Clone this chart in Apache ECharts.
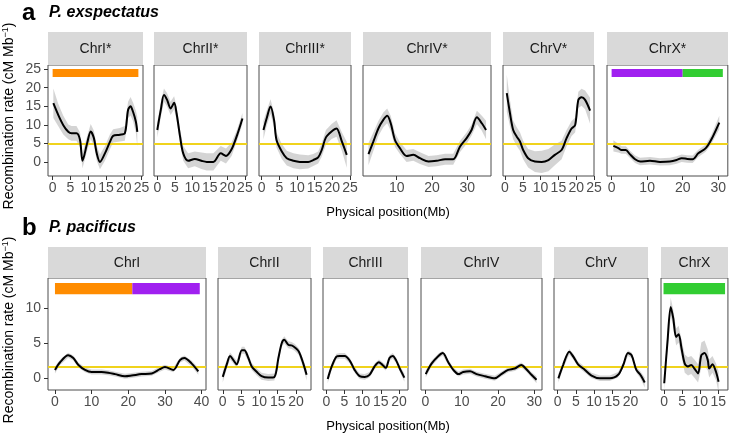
<!DOCTYPE html>
<html><head><meta charset="utf-8">
<script src="https://cdn.jsdelivr.net/npm/echarts@6/dist/echarts.min.js"></script>
<style>html,body{margin:0;padding:0;background:#fff}#c{width:729px;height:433px}</style>
</head><body><div id="c"></div>
<script>
// ---------- DATA ----------
const rowTitles = ['P. exspectatus', 'P. pacificus'];
const rowLetters = ['a', 'b'];
const expChromosomes = ['ChrI*', 'ChrII*', 'ChrIII*', 'ChrIV*', 'ChrV*', 'ChrX*'];
const pacChromosomes = ['ChrI', 'ChrII', 'ChrIII', 'ChrIV', 'ChrV', 'ChrX'];
const expAverageRate = 5;
const pacAverageRate = 1.7;
const expYTicks = [0, 5, 10, 15, 20, 25];
const pacYTicks = [0, 5, 10];
const ticks0to25 = [0, 5, 10, 15, 20, 25];
const ticks10to30 = [10, 20, 30];
const ticks0to30 = [0, 10, 20, 30];
const ticks0to40 = [0, 10, 20, 30, 40];
const ticks0to20 = [0, 5, 10, 15, 20];
const ticks0to15 = [0, 5, 10, 15];

// P. exspectatus
const expChrIPos  = [0.2,1.6,3.0,4.4,5.3,6.7,7.7,8.4,9.7,10.7,11.6,12.4,13.3,14.7,16.1,17.0,18.9,20.3,21.2,21.9,22.6,23.4,23.8];
const expChrIRate = [15.8,12.6,9.9,8.1,7.7,7.7,5.9,0.3,5.0,8.2,6.4,2.3,0.0,2.3,5.4,7.0,7.3,7.7,14.0,15.0,13.5,10.8,8.1];
const expChrISe   = [4,3,2.5,2,2,2,2,2,2,2,2,2,2,2,2,1.8,1.8,2,2.2,2.5,2.5,3,4];
const expChrIIPos  = [0,1.0,1.9,2.8,3.8,4.8,5.5,6.5,7.4,8.8,10.7,12.6,14.1,16,18.1,19.6,21.2,22.8,24.3];
const expChrIIRate = [8.6,14,18,16.7,14.4,15.9,13.1,6.8,2.3,0.3,0.8,0.3,0,0,2.3,1.6,3.4,7.3,11.7];
const expChrIISe   = [2,2,1.8,1.8,1.8,1.8,1.8,2,2,2,2,2.2,2.3,2.3,2,2,1.8,1.5,1.5];
const expChrIIIPos  = [0.5,1.4,2.5,3.5,4.2,5.7,7.1,9,10.8,13.2,14.6,16,17,18.2,19.8,21.2,22.7,24.1];
const expChrIIIRate = [8.6,11.7,14.9,11.3,5.9,2.8,1.0,0.3,0,0,0.5,1.2,3.2,6.6,8.2,9.0,5.5,1.9];
const expChrIIISe   = [2.5,2,2,2,2,2,2,2,2,1.8,1.6,1.6,1.8,2,2,2.2,2.5,3.5];
const expChrIVPos  = [2.0,3.4,4.8,6.2,7.3,8.3,9.5,10.9,12.8,14.7,16.6,19,21.3,23.7,26,27.9,29.8,31.2,32.7,34.1,35.3];
const expChrIVRate = [2.1,5.5,9,11.3,12.4,10.4,5.9,3.7,1.6,1.9,1.0,0.1,0.3,0.7,0.7,4.1,6.4,8.6,12,10.4,8.6];
const expChrIVSe   = [3,2.5,2,2,2,2,1.8,1.6,1.6,1.6,1.6,1.5,1.5,1.5,1.5,1.5,1.5,1.5,1.8,2,2.5];
const expChrVPos  = [0.5,1.4,2.3,3.3,4.2,5.1,6.5,8.4,10.3,12.2,14,15.9,17.3,18.7,19.7,20.6,21.5,22.5,23.9];
const expChrVRate = [18.5,13.1,8.6,6.8,5.5,3.2,1.0,0.1,0,0.5,1.9,3.2,6.4,9,9.9,16.7,17.4,16.7,13.8];
const expChrVSe   = [5,3.5,2.5,2.5,2.5,2.5,2.5,2.8,3,3,2.8,2.5,2.2,2,2,2.2,2.3,2.5,3.5];
const expChrXPos  = [0.5,1.9,2.8,4.0,5.1,6.6,8.0,10.8,13.6,16.4,18.3,19.7,21.3,22.8,24.4,26.5,28.1,30.3];
const expChrXRate = [4.3,3.7,3.2,3.2,2.1,0.7,0.1,0.3,0,0.1,0.5,1.0,0.8,0.7,2.3,3.7,6.1,10.6];
const expChrXSe   = [1.5,1.2,1,1,1,1,1,1,1,1,1,1,1,1,1,1,1.2,1.8];

// P. pacificus
const pacChrIPos  = [0,1.4,3.6,5.0,6.4,8.2,10,12.7,14.5,16.4,19.1,20.9,23.6,26.4,28.6,30,32.3,34.1,35.3,37.3,39.1];
const pacChrIRate = [1.2,2.3,3.3,2.9,1.9,1.2,0.9,0.9,0.8,0.6,0.3,0.4,0.6,0.7,1.3,1.6,1.2,2.6,2.9,2.1,1.0];
const pacChrISe   = [0.5,0.4,0.35,0.35,0.35,0.35,0.35,0.35,0.35,0.35,0.35,0.35,0.35,0.35,0.35,0.35,0.35,0.35,0.35,0.4,0.5];
const pacChrIIPos  = [0,1.1,2.0,2.9,3.8,5.2,5.9,7.0,7.9,9.3,10.6,12.4,14.1,15.2,16.1,16.8,17.9,18.8,19.7,20.8,22.0,22.9];
const pacChrIIRate = [0.2,2.0,3.2,2.6,2.0,4.0,4.0,2.9,1.7,0.9,0.3,0.1,0.2,2.9,5.0,5.5,4.8,4.7,4.4,3.8,2.1,0.5];
const pacChrIISe   = [0.8,0.6,0.5,0.5,0.5,0.5,0.5,0.5,0.5,0.5,0.5,0.5,0.5,0.5,0.5,0.5,0.5,0.5,0.5,0.5,0.6,0.8];
const pacChrIIIPos  = [0.4,1.5,2.8,3.7,5.1,6.5,7.8,9.2,10.6,11.9,13.3,14.5,15.5,16.4,17.4,18.3,19.2,20.4,21.5];
const pacChrIIIRate = [-0.1,1.7,3.1,3.2,3.2,2.5,1.2,0.3,0.2,0.5,1.7,2.3,1.9,1.5,2.9,3.2,2.6,1.2,0.1];
const pacChrIIISe   = [0.6,0.45,0.4,0.4,0.4,0.4,0.4,0.4,0.4,0.4,0.4,0.4,0.4,0.4,0.4,0.4,0.4,0.45,0.6];
const pacChrIVPos  = [0.1,1.7,3.6,4.8,6.3,7.7,9.1,10.4,12.3,14.1,16.4,19.1,20.9,22.8,24.6,26.4,27.8,29.2,30.6];
const pacChrIVRate = [0.6,2.1,3.2,3.6,2.3,1.2,0.6,0.9,1.0,0.6,0.3,0,0.6,1.2,1.4,1.9,1.3,0.5,-0.2];
const pacChrIVSe   = [0.5,0.4,0.35,0.35,0.35,0.35,0.35,0.35,0.35,0.35,0.35,0.35,0.35,0.35,0.35,0.35,0.35,0.4,0.5];
const pacChrVPos  = [0.2,1.5,3.2,4.3,5.6,7.5,9.3,11.6,14.3,16.6,18,19.3,20.3,21.6,22.7,23.9];
const pacChrVRate = [0,1.9,3.8,3.1,2.0,1.2,0.4,0,0,0.5,1.9,3.6,3.3,1.2,0.5,-0.6];
const pacChrVSe   = [0.6,0.45,0.4,0.4,0.4,0.4,0.4,0.4,0.4,0.4,0.4,0.4,0.4,0.4,0.5,0.7];
const pacChrXPos  = [0,0.9,1.8,2.5,3.3,4.0,4.8,5.7,6.6,7.5,8.5,9.4,10.3,11.2,12.1,12.5,13.4,14.4,15.1];
const pacChrXRate = [-0.7,5.2,10.2,8.6,5.9,6.3,4.3,2.1,1.7,1.9,1.3,0.7,3.3,3.6,2.6,1.4,2.0,0.9,-0.5];
const pacChrXSe   = [1,1.2,1.3,1.2,1.2,1.2,1.2,1.3,1.3,1.3,1.3,1.3,1.8,1.8,1.5,1.3,1.2,1.2,1.5];

// Chromosome segment bars: [start Mb, end Mb, group]
const expChrIBars = [[0, 24.1, 'g1']];
const expChrXBars = [[0, 20, 'g2'], [20, 31.3, 'g3']];
const pacChrIBars = [[0, 21.1, 'g1'], [21.1, 39.5, 'g2']];
const pacChrXBars = [[-0.2, 16.9, 'g3']];
const expBarRange = [22.9, 25];
const pacBarRange = [12.0, 13.6];

// ---------- LAYOUT / STYLE ----------
const groupColors = { g1: '#FF8C00', g2: '#A020F0', g3: '#32CD32' };
const rowLayout = [
  { top: 65, height: 111, stripTop: 32, yMin: -3.8, yMax: 26.1, titleY: 13, yTitleCenter: 116, xTitleY: 212 },
  { top: 278, height: 112, stripTop: 247, yMin: -1.67, yMax: 14.33, titleY: 228, yTitleCenter: 330, xTitleY: 426 }
];
const panels = [
  { row: 0, name: expChromosomes[0], pos: expChrIPos, rate: expChrIRate, se: expChrISe, bars: expChrIBars, ticks: ticks0to25, left: 48, width: 95, xMin: -1.3, xMax: 25.4 },
  { row: 0, name: expChromosomes[1], pos: expChrIIPos, rate: expChrIIRate, se: expChrIISe, bars: null, ticks: ticks0to25, left: 154, width: 93, xMin: -0.94, xMax: 25.6 },
  { row: 0, name: expChromosomes[2], pos: expChrIIIPos, rate: expChrIIIRate, se: expChrIIISe, bars: null, ticks: ticks0to25, left: 259, width: 92, xMin: -0.76, xMax: 25.3 },
  { row: 0, name: expChromosomes[3], pos: expChrIVPos, rate: expChrIVRate, se: expChrIVSe, bars: null, ticks: ticks10to30, left: 363, width: 128, xMin: 0.45, xMax: 36.7 },
  { row: 0, name: expChromosomes[4], pos: expChrVPos, rate: expChrVRate, se: expChrVSe, bars: null, ticks: ticks0to25, left: 503, width: 91, xMin: -0.56, xMax: 25 },
  { row: 0, name: expChromosomes[5], pos: expChrXPos, rate: expChrXRate, se: expChrXSe, bars: expChrXBars, ticks: ticks0to30, left: 607, width: 121, xMin: -1.3, xMax: 32.7 },
  { row: 1, name: pacChromosomes[0], pos: pacChrIPos, rate: pacChrIRate, se: pacChrISe, bars: pacChrIBars, ticks: ticks0to40, left: 48, width: 158, xMin: -1.9, xMax: 41.2 },
  { row: 1, name: pacChromosomes[1], pos: pacChrIIPos, rate: pacChrIIRate, se: pacChrIISe, bars: null, ticks: ticks0to20, left: 218, width: 93, xMin: -1.3, xMax: 24.1 },
  { row: 1, name: pacChromosomes[2], pos: pacChrIIIPos, rate: pacChrIIIRate, se: pacChrIIISe, bars: null, ticks: ticks0to20, left: 323, width: 85, xMin: -0.9, xMax: 22.5 },
  { row: 1, name: pacChromosomes[3], pos: pacChrIVPos, rate: pacChrIVRate, se: pacChrIVSe, bars: null, ticks: ticks0to30, left: 421, width: 121, xMin: -1.2, xMax: 32.1 },
  { row: 1, name: pacChromosomes[4], pos: pacChrVPos, rate: pacChrVRate, se: pacChrVSe, bars: null, ticks: ticks0to20, left: 554, width: 94, xMin: -1.0, xMax: 24.8 },
  { row: 1, name: pacChromosomes[5], pos: pacChrXPos, rate: pacChrXRate, se: pacChrXSe, bars: pacChrXBars, ticks: ticks0to15, left: 661, width: 67, xMin: -0.9, xMax: 17.7 }
];
const FONT = 'Liberation Sans, Arial, Helvetica, sans-serif';
const TICK_COLOR = '#4d4d4d';

const grids = [], xAxes = [], yAxes = [], series = [], graphics = [];
panels.forEach((p, i) => {
  const r = rowLayout[p.row];
  const avg = p.row === 0 ? expAverageRate : pacAverageRate;
  const yTicks = p.row === 0 ? expYTicks : pacYTicks;
  const barRange = p.row === 0 ? expBarRange : pacBarRange;
  const firstInRow = (i % 6) === 0;
  grids.push({ left: p.left, top: r.top, width: p.width, height: r.height, show: true,
    borderColor: '#4d4d4d', borderWidth: 1, backgroundColor: '#fff', containLabel: false });
  xAxes.push({ type: 'value', gridIndex: i, min: p.xMin, max: p.xMax, position: 'bottom',
    axisLine: { show: false, onZero: false }, splitLine: { show: false },
    axisTick: { show: true, length: 4, customValues: p.ticks, lineStyle: { color: '#333', width: 1 } },
    axisLabel: { show: true, customValues: p.ticks, margin: 5, fontSize: 14, color: TICK_COLOR, fontFamily: FONT,
      showMinLabel: true, showMaxLabel: true } });
  yAxes.push({ type: 'value', gridIndex: i, min: r.yMin, max: r.yMax, position: 'left',
    axisLine: { show: false, onZero: false }, splitLine: { show: false },
    axisTick: { show: firstInRow, length: 4, customValues: yTicks, lineStyle: { color: '#333', width: 1 } },
    axisLabel: { show: firstInRow, customValues: yTicks, margin: 7, fontSize: 14, color: TICK_COLOR, fontFamily: FONT } });
  // confidence band
  series.push({ type: 'custom', xAxisIndex: i, yAxisIndex: i, clip: true, z: 1, silent: true,
    data: p.pos.map((x, k) => [x, p.rate[k] - p.se[k], p.rate[k] + p.se[k]]),
    encode: { x: 0, y: [1, 2] },
    renderItem: function (params, api) {
      if (params.dataIndex !== 0) return null;
      const pts = [];
      for (let k = 0; k < p.pos.length; k++) pts.push(api.coord([p.pos[k], p.rate[k] + p.se[k]]));
      for (let k = p.pos.length - 1; k >= 0; k--) pts.push(api.coord([p.pos[k], p.rate[k] - p.se[k]]));
      return { type: 'polygon', shape: { points: pts, smooth: 0 }, style: { fill: 'rgba(160,160,160,0.45)' } };
    } });
  // recombination rate line + average line
  series.push({ type: 'line', xAxisIndex: i, yAxisIndex: i, z: 3, silent: true,
    data: p.pos.map((x, k) => [x, p.rate[k]]), symbol: 'none', smooth: 0.3,
    lineStyle: { color: '#000', width: 2 },
    markLine: { silent: true, symbol: 'none', label: { show: false }, z: 2,
      lineStyle: { color: '#F0D31C', width: 2, type: 'solid' },
      data: [{ yAxis: avg }] } });
  if (p.bars) {
    series.push({ type: 'custom', xAxisIndex: i, yAxisIndex: i, z: 4, silent: true, clip: true,
      data: p.bars.map(b => [b[0], b[1]]), encode: { x: [0, 1] },
      renderItem: function (params, api) {
        const b = p.bars[params.dataIndex];
        const a = api.coord([b[0], barRange[1]]);
        const c = api.coord([b[1], barRange[0]]);
        return { type: 'rect', shape: { x: a[0], y: a[1], width: c[0] - a[0], height: c[1] - a[1] },
          style: { fill: groupColors[b[2]] } };
      } });
  }
  // strip
  graphics.push({ type: 'rect', shape: { x: p.left, y: r.stripTop, width: p.width, height: r.top - r.stripTop },
    style: { fill: '#d9d9d9' }, silent: true });
  graphics.push({ type: 'text', x: p.left + p.width / 2, y: r.stripTop + (r.top - r.stripTop) / 2 + 1,
    style: { text: p.name, align: 'center', verticalAlign: 'middle', fontSize: 14, fontFamily: FONT, fill: '#1a1a1a' }, silent: true });
});
rowLayout.forEach((r, ri) => {
  graphics.push({ type: 'text', x: 22, y: r.titleY, style: { text: rowLetters[ri], align: 'left', verticalAlign: 'middle',
    fontSize: 24, fontWeight: 'bold', fontFamily: FONT, fill: '#000' } });
  graphics.push({ type: 'text', x: 49, y: r.titleY, style: { text: rowTitles[ri], align: 'left', verticalAlign: 'middle',
    fontSize: 16, fontWeight: 'bold', fontStyle: 'italic', fontFamily: FONT, fill: '#000' } });
  graphics.push({ type: 'text', x: 388, y: r.xTitleY, style: { text: 'Physical position(Mb)', align: 'center', verticalAlign: 'middle',
    fontSize: 13, fontFamily: FONT, fill: '#000' } });
  graphics.push({ type: 'text', x: 9, y: r.yTitleCenter, rotation: Math.PI / 2,
    style: { text: '{m|Recombination rate (cM Mb}{s|−1}{m|)}', align: 'center', verticalAlign: 'middle',
      rich: { m: { fontSize: 14, fontFamily: FONT, fill: '#000', lineHeight: 16 },
              s: { fontSize: 9, fontFamily: FONT, fill: '#000', verticalAlign: 'top', lineHeight: 16 } } } });
});

const chart = echarts.init(document.getElementById('c'), null, { renderer: 'canvas' });
chart.setOption({ animation: false, backgroundColor: '#fff', grid: grids, xAxis: xAxes, yAxis: yAxes, series: series, graphic: graphics });
</script>
</body></html>
